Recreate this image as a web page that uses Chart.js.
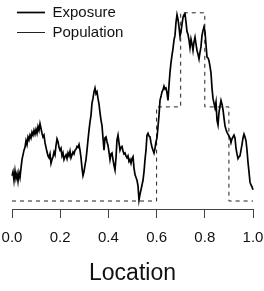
<!DOCTYPE html>
<html>
<head>
<meta charset="utf-8">
<script src="https://cdn.jsdelivr.net/npm/chart.js@4/dist/chart.umd.min.js"></script>
<style>
html,body{margin:0;padding:0;background:#fff;}
canvas{display:block;}
</style>
</head>
<body>
<canvas id="c" width="264" height="291"></canvas>
<script>
// Exposure along location (evenly spaced samples from 0 to 1)
const exposure = [
0.27,0.31,0.22,0.32,0.24,0.29,0.21,0.30,0.25,0.35,
0.44,0.49,0.54,0.57,0.64,0.60,0.68,0.65,0.70,0.67,
0.73,0.70,0.75,0.71,0.76,0.72,0.79,0.75,0.82,0.77,
0.72,0.68,0.70,0.62,0.57,0.52,0.48,0.46,0.50,0.40,
0.44,0.47,0.52,0.49,0.59,0.66,0.63,0.57,0.54,0.56,
0.48,0.51,0.44,0.47,0.49,0.45,0.51,0.48,0.53,0.46,
0.49,0.52,0.50,0.54,0.55,0.58,0.57,0.60,0.54,0.46,
0.35,0.27,0.31,0.38,0.44,0.54,0.65,0.75,0.84,0.91,
1.04,1.09,1.16,1.20,1.14,1.16,1.09,1.03,0.94,0.86,
0.80,0.67,0.54,0.67,0.68,0.63,0.59,0.52,0.44,0.50,
0.51,0.44,0.38,0.33,0.46,0.65,0.70,0.62,0.54,0.57,
0.58,0.53,0.50,0.51,0.48,0.46,0.48,0.42,0.44,0.40,
0.45,0.47,0.35,0.28,0.25,0.22,0.16,0.01,0.07,0.12,
0.17,0.22,0.31,0.44,0.54,0.70,0.72,0.69,0.68,0.62,
0.57,0.54,0.51,0.56,0.63,0.67,0.79,0.91,1.07,1.11,
1.16,1.18,1.22,1.19,1.20,1.15,1.07,1.23,1.37,1.47,
1.55,1.62,1.71,1.76,1.90,1.98,1.93,1.85,1.75,1.80,
1.88,1.95,1.98,1.99,1.90,1.80,1.77,1.71,1.63,1.72,
1.67,1.60,1.69,1.74,1.67,1.60,1.56,1.51,1.58,1.64,
1.76,1.81,1.85,1.80,1.66,1.53,1.52,1.49,1.43,1.36,
1.20,1.09,1.04,0.99,1.05,0.86,0.81,0.94,1.01,1.07,
1.03,0.97,0.88,0.80,0.76,0.73,0.71,0.69,0.67,0.62,
0.66,0.68,0.70,0.67,0.56,0.50,0.45,0.47,0.48,0.54,
0.60,0.67,0.71,0.68,0.64,0.54,0.41,0.31,0.20,0.17,
0.15,0.12
];
const locations = exposure.map((_, i) => i / (exposure.length - 1));

// Population: step levels starting at each break
const popBreaks = [0.0, 0.6, 0.7, 0.8, 0.9, 1.0];
const popLevels = [0, 1, 2, 1, 0, 0];

const xTicks = [0.0, 0.2, 0.4, 0.6, 0.8, 1.0];
const seriesNames = ['Exposure', 'Population'];
const axisTitle = 'Location';

const FONT = "'Liberation Sans', Arial, Helvetica, sans-serif";

new Chart(document.getElementById('c'), {
  type: 'line',
  data: {
    datasets: [
      {
        label: seriesNames[0],
        data: locations.map((x, i) => ({x: x, y: exposure[i]})),
        borderColor: '#000',
        backgroundColor: '#000',
        borderWidth: 1.7,
        pointRadius: 0,
        tension: 0,
        fill: false,
        clip: 4
      },
      {
        label: seriesNames[1],
        data: popBreaks.map((x, i) => ({x: x, y: popLevels[i]})),
        borderColor: '#222',
        backgroundColor: '#222',
        borderWidth: 1,
        borderDash: [4, 4],
        pointRadius: 0,
        stepped: 'before',
        fill: false,
        clip: 4
      }
    ]
  },
  options: {
    responsive: false,
    animation: false,
    devicePixelRatio: 1,
    layout: {padding: {left: 12, right: 11, top: 5, bottom: 0}},
    plugins: {
      tooltip: {enabled: false},
      legend: {
        display: true,
        position: 'chartArea',
        align: 'start',
        labels: {
          usePointStyle: true,
          pointStyle: 'line',
          pointStyleWidth: 28,
          boxHeight: 15,
          padding: 5,
          color: '#111',
          font: {family: FONT, size: 15}
        }
      }
    },
    scales: {
      x: {
        type: 'linear',
        min: 0,
        max: 1,
        afterBuildTicks(scale) {
          scale.ticks = xTicks.map(v => ({value: v}));
        },
        afterFit(scale) {
          scale.height = 82;
          scale.paddingLeft = 0;
          scale.paddingRight = 0;
        },
        grid: {
          display: true,
          drawOnChartArea: false,
          drawTicks: true,
          tickLength: 9,
          tickColor: '#444',
          tickWidth: 1
        },
        border: {display: true, color: '#444', width: 1},
        ticks: {
          padding: 11,
          color: '#111',
          font: {family: FONT, size: 15},
          maxRotation: 0,
          autoSkip: false,
          callback: v => Number(v).toFixed(1)
        },
        title: {
          display: true,
          text: axisTitle,
          color: '#111',
          font: {family: FONT, size: 23},
          padding: {top: 0, bottom: 4}
        }
      },
      y: {
        type: 'linear',
        display: false,
        min: -0.085,
        max: 2.083
      }
    }
  }
});
</script>
</body>
</html>
